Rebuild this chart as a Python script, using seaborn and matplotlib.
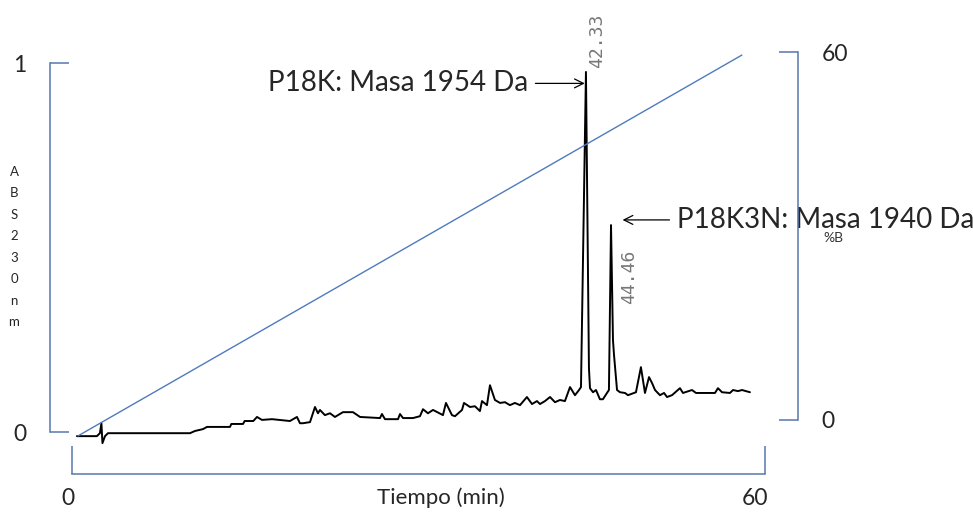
"""HPLC chromatogram of P18K / P18K3N with %B gradient"""

import matplotlib
matplotlib.use("Agg")
import matplotlib.pyplot as plt
from matplotlib.transforms import ScaledTranslation
import seaborn as sns

# chromatogram trace (time in min on the drawn 0-60 axis, absorbance 230 nm)
trace_time = [0.43, 2.16, 2.42, 2.55, 2.64, 2.86, 3.12, 10.22, 10.65, 11.34,
              11.69, 13.68, 13.80, 14.81, 14.95, 15.70, 16.02, 16.45, 17.32, 18.87,
              19.48, 19.74, 20.00, 20.61, 21.04, 21.30, 21.47, 21.90, 22.34, 22.77,
              23.46, 24.33, 24.94, 26.67, 26.84, 27.10, 28.23, 28.40, 28.66, 29.52,
              30.13, 30.39, 30.82, 31.26, 32.12, 32.38, 32.90, 33.16, 33.77, 33.94,
              34.46, 34.89, 35.32, 35.50, 35.93, 36.19, 36.62, 37.06, 37.49, 37.92,
              38.35, 38.79, 39.39, 39.83, 40.26, 40.52, 40.95, 41.39, 41.82, 42.25,
              42.68, 43.12, 43.55, 43.90, 44.07, 44.50, 44.76, 44.85, 45.11, 45.37,
              45.71, 45.97, 46.32, 46.49, 46.67, 46.84, 46.93, 47.19, 47.45, 47.88,
              48.14, 48.83, 49.26, 49.61, 49.96, 50.22, 50.48, 50.91, 51.26, 51.52,
              51.95, 52.64, 52.90, 53.68, 54.03, 55.67, 55.93, 56.28, 56.97, 57.23,
              57.66, 58.01, 58.70]
trace_abs = [-0.011, -0.011, -0.003, 0.024, -0.030, -0.011, -0.003, -0.003, 0.003, 0.008,
             0.014, 0.014, 0.022, 0.022, 0.030, 0.030, 0.041, 0.033, 0.035, 0.030,
             0.041, 0.024, 0.024, 0.027, 0.068, 0.051, 0.060, 0.046, 0.051, 0.041,
             0.054, 0.054, 0.041, 0.038, 0.049, 0.035, 0.035, 0.049, 0.038, 0.038,
             0.043, 0.062, 0.051, 0.060, 0.046, 0.079, 0.046, 0.043, 0.060, 0.079,
             0.068, 0.070, 0.057, 0.084, 0.073, 0.127, 0.087, 0.079, 0.081, 0.073,
             0.079, 0.073, 0.095, 0.076, 0.084, 0.076, 0.084, 0.095, 0.081, 0.087,
             0.084, 0.122, 0.100, 0.114, 0.122, 0.976, 0.173, 0.119, 0.108, 0.114,
             0.089, 0.089, 0.106, 0.114, 0.561, 0.249, 0.209, 0.114, 0.108, 0.106,
             0.100, 0.108, 0.176, 0.106, 0.149, 0.133, 0.114, 0.100, 0.106, 0.095,
             0.100, 0.119, 0.106, 0.114, 0.106, 0.106, 0.119, 0.108, 0.106, 0.114,
             0.111, 0.114, 0.108]

# solvent gradient (%B)
gradient_time = [0.52, 58.0]
gradient_b = [-2.6, 59.5]

# peaks: retention-time labels and identified masses
peak_time = [44.50, 46.67]
peak_abs = [0.976, 0.561]
peak_rt_labels = ["42.33", "44.46"]
peak_names = ["P18K: Masa 1954 Da", "P18K3N: Masa 1940 Da"]

abs_ticks = [0, 1]
time_ticks = [0, 60]
b_ticks = [0, 60]

BRACKET = "#5878ac"
GRAD = "#4f7bbd"

sns.set_style("white")
plt.rcParams["font.family"] = ["Lato", "DejaVu Sans"]

fig = plt.figure(figsize=(9.73, 5.14), dpi=100)
ax = fig.add_axes([0, 0, 1, 1])
ax2 = ax.twinx()

sns.lineplot(x=trace_time, y=trace_abs, ax=ax, color="black", lw=1.4,
             estimator=None, sort=False)
sns.lineplot(x=gradient_time, y=gradient_b, ax=ax2, color=GRAD, lw=1.0,
             estimator=None, sort=False)

ax.set_xlim(-6.23, 78.01)
ax.set_ylim(-0.222, 1.171)
ax2.set_ylim(-15.33, 68.48)

# bracket-style axes
for s in ["top", "right"]:
    ax.spines[s].set_visible(False)
for s in ["top", "left", "bottom"]:
    ax2.spines[s].set_visible(False)
ax.spines["left"].set_position(("axes", 50 / 973))
ax.spines["left"].set_bounds(0, 1)
ax.spines["bottom"].set_position(("axes", 40 / 514))
ax.spines["bottom"].set_bounds(0, 60)
ax2.spines["right"].set_position(("axes", 798 / 973))
ax2.spines["right"].set_bounds(0, 60)
for sp in [ax.spines["left"], ax.spines["bottom"], ax2.spines["right"]]:
    sp.set_color(BRACKET)
    sp.set_linewidth(1.1)

ax.set_yticks(abs_ticks)
ax.set_xticks(time_ticks)
ax2.set_yticks(b_ticks)
ax.tick_params(axis="y", direction="in", length=13.7, width=1.1, color=BRACKET,
               pad=17, labelsize=16.5, left=True)
ax.tick_params(axis="x", direction="in", length=20, width=1.1, color=BRACKET,
               pad=10, labelsize=16.5, bottom=True)
ax2.tick_params(axis="y", direction="in", length=13.7, width=1.1, color=BRACKET,
                pad=17, labelsize=16.5, right=True)
# the bottom labels sit a little left of their ticks in the original
for lbl, dx in zip(ax.get_xticklabels(), [-4, -10]):
    lbl.set_transform(lbl.get_transform()
                      + ScaledTranslation(dx / 100, 0, fig.dpi_scale_trans))

ax.set_xlabel("Tiempo (min)", fontsize=16, va="center")
ax.xaxis.set_label_coords(441 / 973, 1 - 498 / 514)
ax.set_ylabel("")
ax2.set_ylabel("")
fig.text(14 / 973, 1 - 247 / 514, "\n".join("ABS230nm"), fontsize=9.5,
         ha="center", va="center", linespacing=1.95)
ax2.text(833 / 973, 1 - 238 / 514, "%B", transform=ax2.transAxes, fontsize=10,
         ha="center", va="center", color="#333333")

# retention times
ax.text(peak_time[0] + 0.95, peak_abs[0] + 0.01, peak_rt_labels[0], rotation=90,
        ha="center", va="bottom", fontsize=13, color="#777777",
        family="DejaVu Sans Mono")
ax.text(peak_time[1] + 1.6, peak_abs[1] - 0.14, peak_rt_labels[1], rotation=90,
        ha="center", va="center", fontsize=13, color="#777777",
        family="DejaVu Sans Mono")

# mass annotations
arrow = dict(arrowstyle="->", color="black", lw=0.9, mutation_scale=16,
             shrinkA=3, shrinkB=0)
ax.annotate(peak_names[0], xy=(peak_time[0] - 0.1, 0.945),
            xytext=(39.48, 0.945), ha="right", va="center", fontsize=20,
            arrowprops=arrow)
ax.annotate(peak_names[1], xy=(peak_time[1] + 1.0, 0.575),
            xytext=(52.38, 0.575), ha="left", va="center", fontsize=20,
            arrowprops=arrow)

fig.savefig("out.png", dpi=100)
